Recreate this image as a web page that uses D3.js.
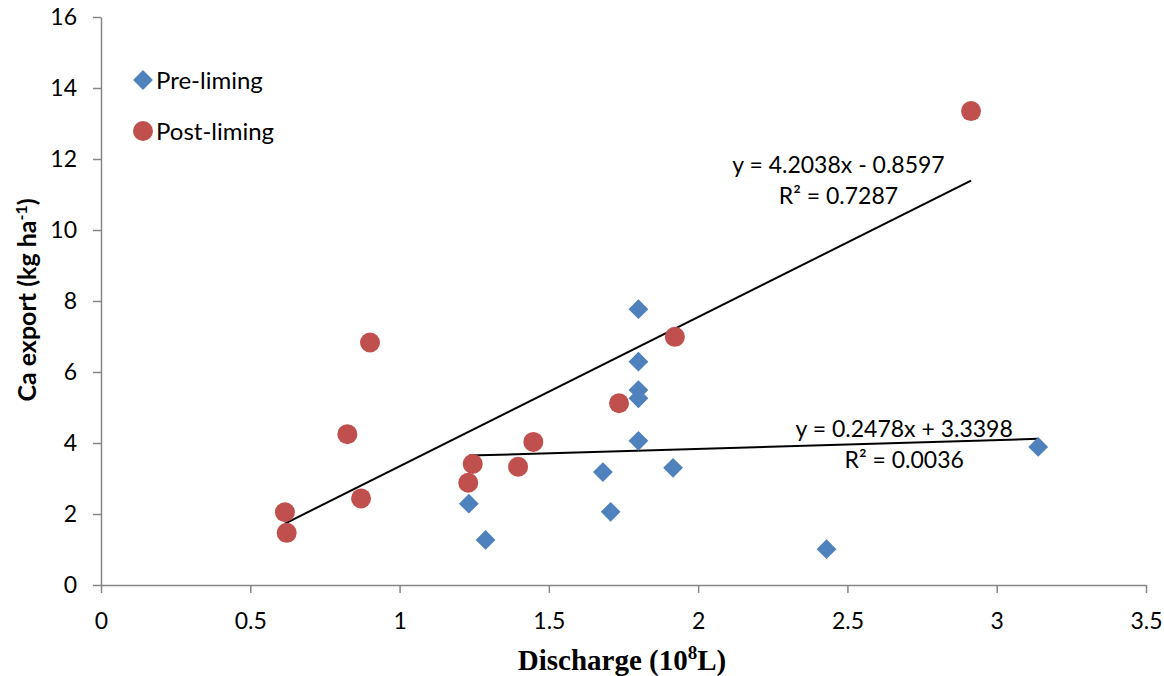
<!DOCTYPE html>
<html lang="en">
<head>
    <meta charset="UTF-8">
    <title>Ca export vs discharge</title>
    <script src="https://d3js.org/d3.v7.min.js"></script>
    <style>
        body { margin: 0; background: #fff; }
        svg text { font-family: Lato, "Open Sans", sans-serif; fill: #000; }
    </style>
</head>
<body>
    <svg width="1164" height="676"></svg>
    <script>
        // Data
        const preX = [1.232, 1.288, 1.681, 1.707, 1.800, 1.800, 1.800, 1.800, 1.800, 1.916, 2.430, 3.139];
        const preY = [2.29, 1.27, 3.18, 2.06, 7.77, 6.29, 5.49, 5.26, 4.06, 3.30, 1.01, 3.89];
        const postX = [0.616, 0.622, 0.825, 0.871, 0.901, 1.230, 1.245, 1.397, 1.448, 1.735, 1.922, 2.914];
        const postY = [2.05, 1.47, 4.25, 2.44, 6.83, 2.88, 3.41, 3.33, 4.03, 5.12, 6.99, 13.35];
        const seriesNames = ["Pre-liming", "Post-liming"];
        // trend line coefficients [slope, intercept] and labels
        const preFit = [0.2478, 3.3398];
        const postFit = [4.2038, -0.8597];
        const preLabel = ["y = 0.2478x + 3.3398", "R² = 0.0036"];
        const postLabel = ["y = 4.2038x - 0.8597", "R² = 0.7287"];
        const xTicks = [0, 0.5, 1, 1.5, 2, 2.5, 3, 3.5];
        const yTicks = [0, 2, 4, 6, 8, 10, 12, 14, 16];

        const margin = { top: 17, right: 18, bottom: 91, left: 101 };
        const width = 1164 - margin.left - margin.right;
        const height = 676 - margin.top - margin.bottom;

        const svg = d3.select("svg");
        const g = svg.append("g")
            .attr("transform", `translate(${margin.left},${margin.top})`);

        const x = d3.scaleLinear().domain([0, 3.5]).range([0, width]);
        const y = d3.scaleLinear().domain([0, 16]).range([height, 0]);

        const axisColor = "#868686";

        // axes
        const xAxis = g.append("g")
            .attr("transform", `translate(0,${height})`)
            .call(d3.axisBottom(x).tickValues(xTicks).tickSize(8).tickSizeOuter(0).tickFormat(d3.format("")));
        const yAxis = g.append("g")
            .call(d3.axisLeft(y).tickValues(yTicks).tickSize(8).tickSizeOuter(0));

        [xAxis, yAxis].forEach(a => {
            a.select(".domain").attr("stroke", axisColor).attr("stroke-width", 1.5);
            a.selectAll(".tick line").attr("stroke", axisColor).attr("stroke-width", 1.5);
            a.selectAll(".tick text").attr("font-size", 23).attr("font-family", "Lato, sans-serif");
        });
        xAxis.selectAll(".tick text").attr("y", 18).attr("dy", "1.15em");
        yAxis.selectAll(".tick text").attr("x", -24);

        // trend lines
        function trend(xs, fit) {
            const x0 = d3.min(xs), x1 = d3.max(xs);
            g.append("line")
                .attr("x1", x(x0)).attr("y1", y(fit[0] * x0 + fit[1]))
                .attr("x2", x(x1)).attr("y2", y(fit[0] * x1 + fit[1]))
                .attr("stroke", "#000").attr("stroke-width", 2);
        }
        trend(postX, postFit);
        trend(preX, preFit);

        // points
        const diamond = d3.symbol().type(d3.symbolDiamond2).size(250);
        g.selectAll(".pre")
            .data(preX.map((d, i) => [d, preY[i]]))
            .enter().append("path")
            .attr("class", "pre")
            .attr("d", diamond)
            .attr("transform", d => `translate(${x(d[0])},${y(d[1])})`)
            .attr("fill", "#4F81BD");

        g.selectAll(".post")
            .data(postX.map((d, i) => [d, postY[i]]))
            .enter().append("circle")
            .attr("class", "post")
            .attr("cx", d => x(d[0]))
            .attr("cy", d => y(d[1]))
            .attr("r", 10)
            .attr("fill", "#C0504D");

        // equation labels
        function eqLabel(lines, cx, cy) {
            lines.forEach((t, i) => {
                g.append("text")
                    .attr("x", x(cx)).attr("y", y(cy) + i * 31)
                    .attr("text-anchor", "middle")
                    .attr("font-size", 23)
                    .text(t);
            });
        }
        eqLabel(postLabel, 2.47, 11.6);
        eqLabel(preLabel, 2.69, 4.18);

        // legend
        const legend = svg.append("g");
        legend.append("path")
            .attr("d", diamond)
            .attr("transform", "translate(143,80)")
            .attr("fill", "#4F81BD");
        legend.append("circle")
            .attr("cx", 143).attr("cy", 131).attr("r", 10)
            .attr("fill", "#C0504D");
        legend.selectAll(".lt")
            .data(seriesNames)
            .enter().append("text")
            .attr("x", 156)
            .attr("y", (d, i) => 89 + i * 51)
            .attr("font-size", 24)
            .text(d => d);

        // axis titles
        const xt = svg.append("text")
            .attr("x", margin.left + x(1.745))
            .attr("y", 670)
            .attr("text-anchor", "middle")
            .attr("font-weight", "bold")
            .attr("font-size", 29)
            .style("font-family", "'Liberation Serif', 'Times New Roman', serif");
        xt.append("tspan").text("Discharge (10");
        xt.append("tspan").attr("dy", -11).attr("font-size", 19).text("8");
        xt.append("tspan").attr("dy", 11).text("L)");

        const yt = svg.append("text")
            .attr("transform", `translate(36,300) rotate(-90)`)
            .attr("text-anchor", "middle")
            .attr("font-weight", "bold")
            .attr("font-size", 25);
        yt.append("tspan").text("Ca export (kg ha");
        yt.append("tspan").attr("dy", -9).attr("font-size", 16).text("-1");
        yt.append("tspan").attr("dy", 9).text(")");
    </script>
</body>
</html>
